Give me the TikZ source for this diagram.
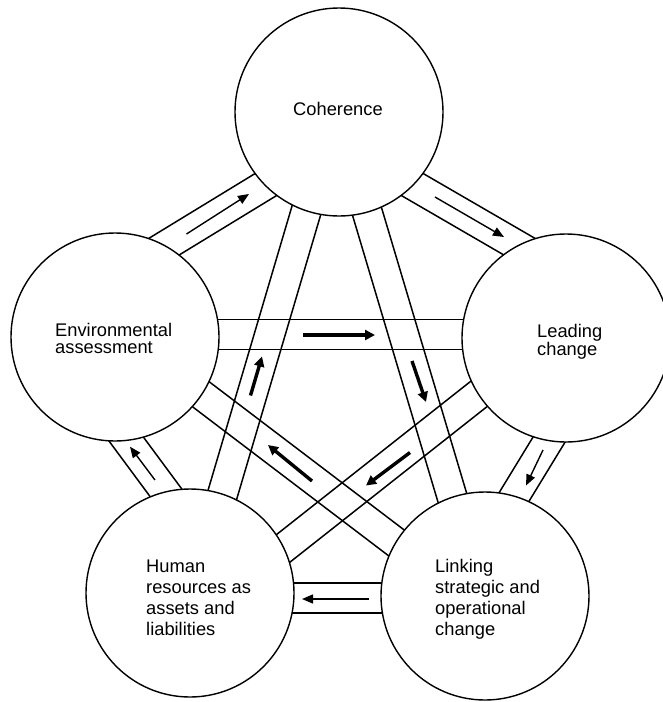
\documentclass[tikz,border=0pt]{standalone}
\usepackage{fontspec}
\setmainfont{Liberation Sans}
\usetikzlibrary{calc,arrows.meta}
\begin{document}
\begin{tikzpicture}[x=1pt,y=-1pt,
  bandline/.style={line width=1.5pt},
  hub/.style={circle,draw,fill=white,line width=1.4pt,minimum size=208pt,inner sep=0pt},
  thinflow/.style={line width=1.4pt,-{Triangle[length=11pt,width=9pt]}},
  boldflow/.style={line width=3.4pt,-{Triangle[length=10pt,width=10pt]}},
  hubtext/.style={anchor=base west,inner sep=0pt,align=left,font=\fontsize{18.3}{#1}\selectfont},
]
\useasboundingbox (0,0) rectangle (663,702);

% centre lines of the ten double-line bands (ends lie inside the circles)
\coordinate (b1s) at (130,267.4);   \coordinate (b1e) at (300,163.7);
\coordinate (b2s) at (380,165.8);   \coordinate (b2e) at (560,270.2);
\coordinate (b3s) at (573.2,400);   \coordinate (b3e) at (487.8,540);
\coordinate (b4s) at (430,598);     \coordinate (b4e) at (250,598);
\coordinate (b5s) at (193.5,530);   \coordinate (b5e) at (97.3,400);
\coordinate (b6s) at (150,334.5);   \coordinate (b6e) at (530,334.5);
\coordinate (b7s) at (348.7,150);   \coordinate (b7e) at (470.9,560);
\coordinate (b8s) at (520,361.5);   \coordinate (b8e) at (250,574.6);
\coordinate (b9s) at (440,576);     \coordinate (b9e) at (160,363.2);
\coordinate (b10s) at (203.1,560);  \coordinate (b10e) at (324.2,150);

\foreach \s/\e in {b1s/b1e,b2s/b2e,b3s/b3e,b4s/b4e,b5s/b5e,
                   b6s/b6e,b7s/b7e,b8s/b8e,b9s/b9e,b10s/b10e}{
  \draw[bandline] ($(\s)!15pt!90:(\e)$) -- ($(\e)!15pt!-90:(\s)$);
  \draw[bandline] ($(\s)!15pt!-90:(\e)$) -- ($(\e)!15pt!90:(\s)$);
}

% arrows along the outer ring
\coordinate (a1s) at (186.5,234);  \coordinate (a1e) at (249,194);
\coordinate (a2s) at (435,197);    \coordinate (a2e) at (504,237);
\coordinate (a3s) at (543,450);    \coordinate (a3e) at (526,485.5);
\coordinate (a4s) at (369,599);    \coordinate (a4e) at (302,599);
\coordinate (a5s) at (155,480);    \coordinate (a5e) at (130,446.7);
\foreach \i in {1,...,5}{ \draw[thinflow] (a\i s) -- (a\i e); }

% arrows along the inner star
\coordinate (a6s) at (303,335);    \coordinate (a6e) at (375,335);
\coordinate (a7s) at (412,361);    \coordinate (a7e) at (426,402);
\coordinate (a8s) at (410,452.5);  \coordinate (a8e) at (366,485.5);
\coordinate (a9s) at (312,481);    \coordinate (a9e) at (268,445);
\coordinate (a10s) at (250.5,395.5); \coordinate (a10e) at (262,356.5);
\foreach \i in {6,...,10}{ \draw[boldflow] (a\i s) -- (a\i e); }

% the five circles
\node[hub] (coh) at (339,112) {};
\node[hub] (env) at (115,337) {};
\node[hub] (lead) at (566,338) {};
\node[hub] (hum) at (190,593) {};
\node[hub] (link) at (485,596) {};

% circle texts (the base anchor sits on the last line's baseline)
\node[hubtext=20,anchor=base] (cohtext) at (338,115) {Coherence};
\node[hubtext=17] (envtext) at (55,353) {Environmental\\assessment};
\node[hubtext=18] (leadtext) at (537,355) {Leading\\change};
\node[hubtext=21] (humtext) at (146,635) {Human\\resources as\\assets and\\liabilities};
\node[hubtext=21] (linktext) at (435,635) {Linking\\strategic and\\operational\\change};
\end{tikzpicture}
\end{document}
